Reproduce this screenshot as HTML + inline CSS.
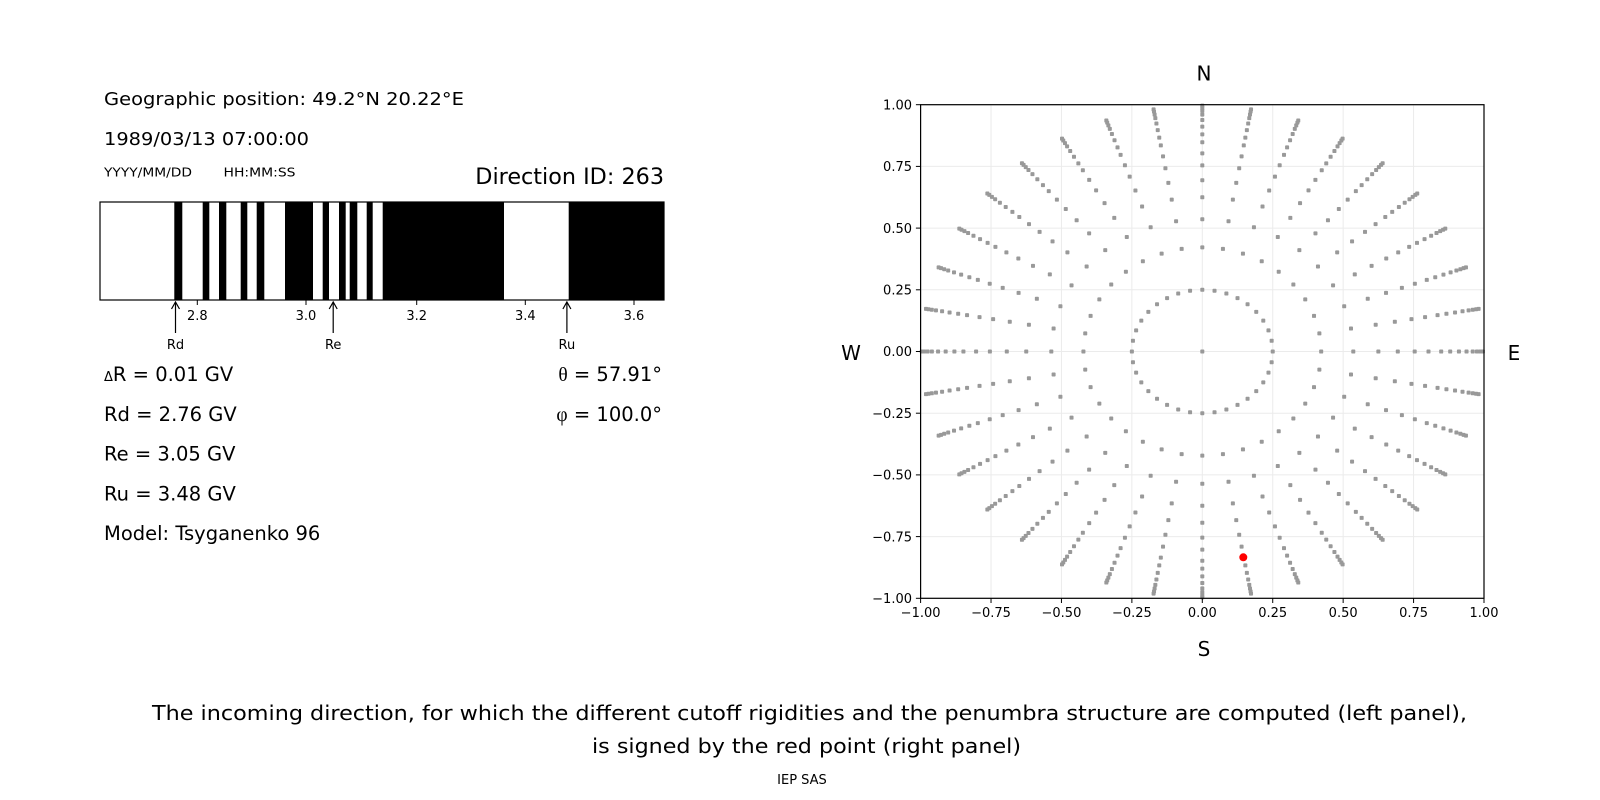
<!DOCTYPE html>
<html><head><meta charset="utf-8"><style>
html,body{margin:0;padding:0;background:#fff;}
svg{display:block;font-family:"DejaVu Sans","Liberation Sans",sans-serif;}
</style></head><body>
<svg id="s" width="1600" height="800" viewBox="0 0 1600 800" xmlns="http://www.w3.org/2000/svg">
<rect width="1600" height="800" fill="#fff"/>
<text x="104" y="105" font-size="18" textLength="360" lengthAdjust="spacingAndGlyphs">Geographic position: 49.2°N 20.22°E</text>
<text x="104" y="145" font-size="18" textLength="205" lengthAdjust="spacingAndGlyphs">1989/03/13 07:00:00</text>
<text x="104" y="176.5" font-size="12.5" textLength="88" lengthAdjust="spacingAndGlyphs">YYYY/MM/DD</text>
<text x="223.5" y="176.5" font-size="12.5" textLength="72" lengthAdjust="spacingAndGlyphs">HH:MM:SS</text>
<text x="664" y="184" font-size="22.3" text-anchor="end">Direction ID: 263</text>
<g fill="#000">
<rect x="174.3" y="202" width="8" height="98"/>
<rect x="202.7" y="202" width="6.6" height="98"/>
<rect x="219" y="202" width="7.3" height="98"/>
<rect x="240.7" y="202" width="6.6" height="98"/>
<rect x="256.7" y="202" width="7.6" height="98"/>
<rect x="285" y="202" width="28" height="98"/>
<rect x="322.7" y="202" width="6.3" height="98"/>
<rect x="339" y="202" width="6.7" height="98"/>
<rect x="349.7" y="202" width="7.6" height="98"/>
<rect x="366.7" y="202" width="6" height="98"/>
<rect x="382.7" y="202" width="121.3" height="98"/>
<rect x="568.7" y="202" width="95.3" height="98"/>
</g>
<rect x="100" y="202" width="564" height="98" fill="none" stroke="#000" stroke-width="1.2"/>
<g stroke="#000" stroke-width="1">
<line x1="197.3" y1="300" x2="197.3" y2="305"/>
<line x1="306" y1="300" x2="306" y2="305"/>
<line x1="416.7" y1="300" x2="416.7" y2="305"/>
<line x1="525.3" y1="300" x2="525.3" y2="305"/>
<line x1="634" y1="300" x2="634" y2="305"/>
</g>
<g font-size="13" text-anchor="middle">
<text x="197.3" y="320">2.8</text>
<text x="306" y="320">3.0</text>
<text x="416.7" y="320">3.2</text>
<text x="525.3" y="320">3.4</text>
<text x="634" y="320">3.6</text>
</g>
<g stroke="#000" stroke-width="1.2" fill="none">
<line x1="175.5" y1="333" x2="175.5" y2="302"/><polyline points="171.5,309 175.5,302 179.5,309"/>
<line x1="333.2" y1="333" x2="333.2" y2="302"/><polyline points="329.2,309 333.2,302 337.2,309"/>
<line x1="566.9" y1="333" x2="566.9" y2="302"/><polyline points="562.9,309 566.9,302 570.9,309"/>
</g>
<g font-size="13" text-anchor="middle">
<text x="175.5" y="349">Rd</text>
<text x="333.2" y="349">Re</text>
<text x="566.9" y="349">Ru</text>
</g>
<g font-size="19.5">
<text x="104" y="381"><tspan font-size="13">Δ</tspan>R = 0.01 GV</text>
<text x="104" y="421">Rd = 2.76 GV</text>
<text x="104" y="460.5">Re = 3.05 GV</text>
<text x="104" y="500.3">Ru = 3.48 GV</text>
<text x="104" y="540">Model: Tsyganenko 96</text>
<text x="662" y="381" text-anchor="end"><tspan font-family="Liberation Serif,serif">θ</tspan> = 57.91°</text>
<text x="662" y="421" text-anchor="end"><tspan font-family="Liberation Serif,serif">φ</tspan> = 100.0°</text>
</g>
<g id="grid" stroke="#ebebeb" stroke-width="1"></g>
<g id="pts" fill="#999"></g>
<circle cx="1243.3" cy="557.3" r="4" fill="#ff0000"/>
<rect x="920.6" y="104.7" width="563.4" height="493.6" fill="none" stroke="#000" stroke-width="1.2"/>
<g id="ticks" stroke="#000" stroke-width="1"></g>
<g id="tl" font-size="13"></g>
<g font-size="20" text-anchor="middle">
<text x="1204" y="80.5">N</text>
<text x="1204" y="656">S</text>
<text x="851" y="360">W</text>
<text x="1514" y="360">E</text>
</g>
<g font-size="20.5" text-anchor="middle">
<text x="809.5" y="720" textLength="1315" lengthAdjust="spacingAndGlyphs">The incoming direction, for which the different cutoff rigidities and the penumbra structure are computed (left panel),</text>
<text x="806.5" y="753" textLength="429" lengthAdjust="spacingAndGlyphs">is signed by the red point (right panel)</text>
</g>
<text x="802" y="784" font-size="13" text-anchor="middle">IEP SAS</text>
</svg>
<script>
(function(){
var NS="http://www.w3.org/2000/svg";
var cx=1202.3,cy=351.5,ux=281.7,uy=246.8;
function el(p,t,a){var e=document.createElementNS(NS,t);for(var k in a)e.setAttribute(k,a[k]);document.getElementById(p).appendChild(e);return e;}
var vals=[-1,-0.75,-0.5,-0.25,0,0.25,0.5,0.75,1];
vals.forEach(function(v){
 var x=cx+v*ux,y=cy-v*uy;
 el("grid","line",{x1:x,y1:104.7,x2:x,y2:598.3});
 el("grid","line",{x1:920.6,y1:y,x2:1484,y2:y});
 el("ticks","line",{x1:x,y1:598.3,x2:x,y2:603});
 el("ticks","line",{x1:920.6,y1:y,x2:915.9,y2:y});
 var s=(v<0?"\u2212":"")+Math.abs(v).toFixed(2);
 var t=el("tl","text",{x:x,y:617,"text-anchor":"middle"});t.textContent=s;
 var t2=el("tl","text",{x:912,y:y+4.7,"text-anchor":"end"});t2.textContent=s;
});
function pt(r,a){var x=cx+r*Math.sin(a)*ux,y=cy-r*Math.cos(a)*uy;el("pts","rect",{x:x-2,y:y-2,width:4,height:4,rx:0.8});}
pt(0,0);
var rs=[0.25,0.422,0.536,0.625,0.694,0.754,0.803,0.848,0.880,0.911,0.938,0.960,0.975,0.987,0.996];
for(var i=0;i<36;i++){var a=i*10*Math.PI/180;rs.forEach(function(r){pt(r,a);});}
})();
</script>
</body></html>
